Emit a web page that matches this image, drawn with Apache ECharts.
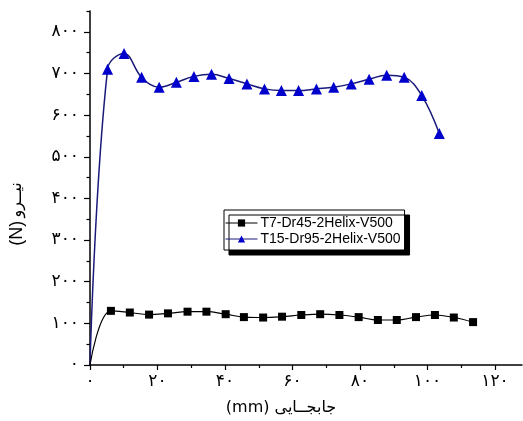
<!DOCTYPE html>
<html>
<head>
<meta charset="utf-8">
<script src="https://cdn.jsdelivr.net/npm/echarts@6/dist/echarts.min.js"></script>
<style>
  html, body { margin: 0; padding: 0; background: #fff; }
  #chart { width: 523px; height: 421px; }
</style>
</head>
<body>
<div id="chart"></div>
<script>
// Force vs. displacement for two helix specimens
const seriesNames = ['T7-Dr45-2Helix-V500', 'T15-Dr95-2Helix-V500'];

const t7X = [0, 6.2, 11.8, 17.5, 23.1, 28.9, 34.5, 40.2, 45.6, 51.3, 56.9, 62.6, 68.2, 73.9, 79.6, 85.3, 90.9, 96.6, 102.2, 107.8, 113.5];
const t7Y = [0, 130, 126, 121, 124, 128, 128, 122, 115, 114, 116, 120, 122, 120, 115, 108, 108, 115, 120, 114, 103];

const t15X = [0, 5.2, 10.1, 15.3, 20.5, 25.6, 30.8, 36.0, 41.2, 46.5, 51.7, 56.7, 61.8, 67.1, 72.2, 77.4, 82.7, 87.9, 93.1, 98.3, 103.5];
const t15Y = [0, 710, 748, 691, 667, 679, 693, 698, 688, 675, 663, 659, 659, 663, 667, 675, 686, 696, 691, 647, 556];

const xMajorTicks = [0, 20, 40, 60, 80, 100, 120];
const xMinorTicks = [10, 30, 50, 70, 90, 110];
const yMajorTicks = [0, 100, 200, 300, 400, 500, 600, 700, 800];
const yMinorTicks = [50, 150, 250, 350, 450, 550, 650, 750, 850];

const xTitle = '(mm) جابجــایی';
const yTitleUnit = '(N)';
const yTitleWord = 'نیــرو';

const faDigits = '۰۱۲۳۴۵۶۷۸۹';
function toPersian(v) {
  return String(v).replace(/[0-9]/g, d => faDigits[+d]);
}

function pairs(xs, ys) {
  return xs.map((x, i) => i === 0 ? { value: [x, ys[i]], symbol: 'none' } : [x, ys[i]]);
}

const axisColor = '#000';
const labelFont = { color: '#000', fontFamily: 'DejaVu Sans', fontSize: 17 };

const chart = echarts.init(document.getElementById('chart'), null, { renderer: 'canvas' });

chart.setOption({
  animation: false,
  backgroundColor: '#fff',
  grid: { left: 89, right: 1, top: 11, bottom: 54, containLabel: false },
  legend: {
    data: seriesNames,
    orient: 'vertical',
    left: 224,
    top: 210,
    padding: [6, 4, 4, 1],
    itemGap: 2,
    itemWidth: 32,
    itemHeight: 9,
    backgroundColor: '#fff',
    borderColor: '#000',
    borderWidth: 1,
    shadowColor: '#000',
    shadowBlur: 0,
    shadowOffsetX: 5,
    shadowOffsetY: 5,
    lineStyle: { width: 1 },
    textStyle: { color: '#000', fontFamily: 'Liberation Sans', fontSize: 14, lineHeight: 14, padding: [0, 0, 0, -2] }
  },
  xAxis: [
    {
      type: 'value', min: 0, max: 128, interval: 20,
      axisLine: { show: true, lineStyle: { color: axisColor, width: 1.5 } },
      axisTick: { show: true, inside: false, length: 5, customValues: xMajorTicks, lineStyle: { color: axisColor, width: 1.2 } },
      axisLabel: { show: true, margin: 8, customValues: xMajorTicks, formatter: v => toPersian(v), ...labelFont },
      splitLine: { show: false },
      name: xTitle,
      nameLocation: 'middle',
      nameGap: 35,
      nameTextStyle: { color: '#000', fontFamily: 'DejaVu Sans', fontSize: 16, padding: [0, 50, 0, 0] }
    },
    {
      type: 'value', min: 0, max: 128, position: 'bottom',
      axisLine: { show: false },
      axisTick: { show: true, inside: false, length: 3, customValues: xMinorTicks, lineStyle: { color: axisColor, width: 1.2 } },
      axisLabel: { show: false },
      splitLine: { show: false }
    }
  ],
  yAxis: [
    {
      type: 'value', min: 0, max: 850, interval: 100,
      axisLine: { show: true, lineStyle: { color: axisColor, width: 1.5 } },
      axisTick: { show: true, inside: false, length: 6, customValues: yMajorTicks, lineStyle: { color: axisColor, width: 1.2 } },
      axisLabel: { show: true, margin: 11, customValues: yMajorTicks, formatter: v => toPersian(v), ...labelFont },
      splitLine: { show: false },
      name: '{u|' + yTitleUnit + '} {w|' + yTitleWord + '}',
      nameLocation: 'middle',
      nameGap: 64,
      nameRotate: 90,
      nameTextStyle: {
        padding: [0, 52, 0, 0],
        rich: {
          u: { color: '#000', fontFamily: 'Liberation Sans', fontSize: 18 },
          w: { color: '#000', fontFamily: 'DejaVu Sans', fontSize: 16 }
        }
      }
    },
    {
      type: 'value', min: 0, max: 850, position: 'left',
      axisLine: { show: false },
      axisTick: { show: true, inside: false, length: 3.5, customValues: yMinorTicks, lineStyle: { color: axisColor, width: 1.2 } },
      axisLabel: { show: false },
      splitLine: { show: false }
    }
  ],
  series: [
    {
      name: seriesNames[0],
      type: 'line',
      xAxisIndex: 0, yAxisIndex: 0,
      data: pairs(t7X, t7Y),
      smooth: 0.4,
      symbol: 'rect',
      symbolSize: 8,
      showAllSymbol: true,
      lineStyle: { color: '#000', width: 1.2 },
      itemStyle: { color: '#000' },
      z: 3
    },
    {
      name: seriesNames[1],
      type: 'line',
      xAxisIndex: 0, yAxisIndex: 0,
      data: pairs(t15X, t15Y),
      smooth: 0.4,
      symbol: 'triangle',
      symbolSize: 11,
      showAllSymbol: true,
      lineStyle: { color: '#1a1a7a', width: 1.5 },
      itemStyle: { color: '#0000cc' },
      z: 2
    }
  ]
});
</script>
</body>
</html>
